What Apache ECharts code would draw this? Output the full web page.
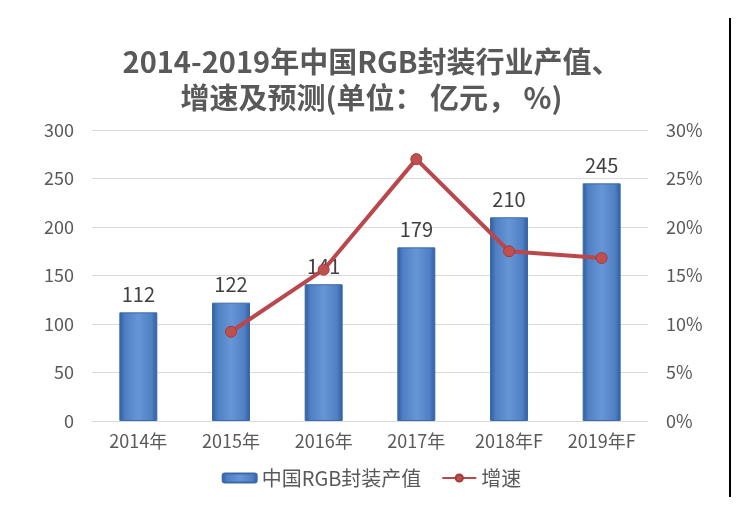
<!DOCTYPE html>
<html>
<head>
<meta charset="utf-8">
<script src="https://cdn.jsdelivr.net/npm/echarts@6/dist/echarts.min.js"></script>
<style>
  html, body { margin: 0; padding: 0; background: #fff; }
  #myChart { width: 743px; height: 512px; }
</style>
</head>
<body>
<div id="myChart"></div>
<script>
// 年份
var years = ['2014年', '2015年', '2016年', '2017年', '2018年F', '2019年F'];
// 中国RGB封装产值 (亿元)
var output = [112, 122, 141, 179, 210, 245];
// 增速 (%)
var growth = [null, 9.2, 15.6, 27.0, 17.5, 16.8];
var leftTicks = [0, 300, 50];
var rightTicks = [0, 30, 5];

var font = '"Noto Sans CJK SC", "Noto Sans", sans-serif';
var myChart = echarts.init(document.getElementById('myChart'));
myChart.setOption({
  backgroundColor: '#fff',
  title: {
    text: '2014-2019年中国RGB封装行业产值、\n增速及预测(单位： 亿元， %)',
    left: 'center',
    top: 39,
    textStyle: {
      fontFamily: font,
      fontSize: 29,
      fontWeight: 'bold',
      color: '#595959',
      lineHeight: 36
    }
  },
  legend: {
    bottom: 19,
    left: 'center',
    itemGap: 20,
    itemWidth: 34,
    itemHeight: 9,
    textStyle: { fontFamily: font, fontSize: 20, color: '#595959' },
    data: ['中国RGB封装产值', '增速']
  },
  grid: { left: 92, right: 95, top: 130, bottom: 91 },
  xAxis: {
    type: 'category',
    data: years,
    axisTick: { show: false },
    axisLine: { lineStyle: { color: '#d9d9d9', width: 1 } },
    axisLabel: { margin: 11, fontFamily: font, fontSize: 18, color: '#595959' }
  },
  yAxis: [{
    type: 'value',
    min: leftTicks[0], max: leftTicks[1], interval: leftTicks[2],
    axisLine: { show: false },
    axisTick: { show: false },
    splitLine: { lineStyle: { color: '#d9d9d9' } },
    axisLabel: { margin: 18, fontFamily: font, fontSize: 18, color: '#595959' }
  }, {
    type: 'value',
    min: rightTicks[0], max: rightTicks[1], interval: rightTicks[2],
    axisLine: { show: false },
    axisTick: { show: false },
    splitLine: { show: false },
    axisLabel: { margin: 18, fontFamily: font, fontSize: 18, color: '#595959', formatter: '{value}%' }
  }],
  series: [{
    name: '中国RGB封装产值',
    type: 'bar',
    barWidth: 38,
    data: output,
    z: 2,
    itemStyle: {
      color: new echarts.graphic.LinearGradient(0, 0, 1, 0, [
        { offset: 0, color: '#2f5c9c' },
        { offset: 0.15, color: '#4f80c4' },
        { offset: 0.5, color: '#6796d6' },
        { offset: 0.85, color: '#4f80c4' },
        { offset: 1, color: '#2f5c9c' }
      ]),
      borderColor: '#3b6aa8',
      borderWidth: 1
    },
    label: {
      show: true,
      position: 'top',
      distance: 8,
      fontFamily: font,
      fontSize: 20,
      color: '#404040'
    }
  }, {
    name: '增速',
    type: 'line',
    yAxisIndex: 1,
    data: growth,
    symbol: 'circle',
    symbolSize: 11,
    z: 5,
    lineStyle: { color: '#b9474c', width: 4 },
    itemStyle: { color: '#c0504d', borderColor: '#a33c40', borderWidth: 1 }
  }],
  graphic: [{
    type: 'line',
    shape: { x1: 730, y1: 18, x2: 730, y2: 497 },
    style: { stroke: '#000', lineWidth: 2 }
  }]
});
</script>
</body>
</html>
